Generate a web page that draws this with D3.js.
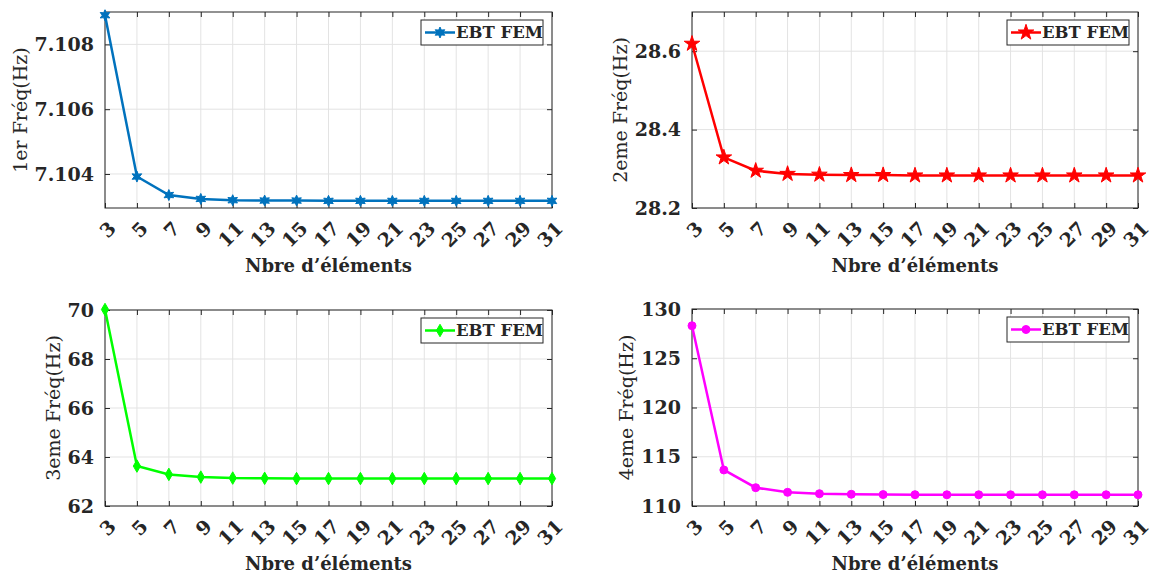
<!DOCTYPE html>
<html>
<head>
<meta charset="utf-8">
<script src="https://cdn.jsdelivr.net/npm/d3@7"></script>
<style>
  body { margin: 0; background: #fff; }
  svg { display: block; }
</style>
</head>
<body>
<svg id="chart" width="1158" height="579"></svg>
<script>
// data
var elements = [3, 5, 7, 9, 11, 13, 15, 17, 19, 21, 23, 25, 27, 29, 31];

var freq1 = [7.10890, 7.10392, 7.10335, 7.10323, 7.10319, 7.10318, 7.10318, 7.10317,
             7.10317, 7.10317, 7.10317, 7.10317, 7.10317, 7.10317, 7.10317];
var freq2 = [28.619, 28.329, 28.295, 28.287, 28.285, 28.284, 28.284, 28.283,
             28.283, 28.283, 28.283, 28.283, 28.283, 28.283, 28.283];
var freq3 = [70.02, 63.63, 63.29, 63.18, 63.14, 63.13, 63.12, 63.12,
             63.12, 63.12, 63.12, 63.12, 63.12, 63.12, 63.12];
var freq4 = [128.30, 113.66, 111.86, 111.39, 111.25, 111.19, 111.16, 111.15,
             111.14, 111.14, 111.14, 111.14, 111.14, 111.14, 111.14];

var yTicks1 = [7.104, 7.106, 7.108];
var yTicks2 = [28.2, 28.4, 28.6];
var yTicks3 = [62, 64, 66, 68, 70];
var yTicks4 = [110, 115, 120, 125, 130];

var yLabels = ["1er Fréq(Hz)", "2eme Fréq(Hz)", "3eme Fréq(Hz)", "4eme Fréq(Hz)"];
var xLabel = "Nbre d\u2019éléments";
var legendLabel = "EBT FEM";

var svg = d3.select("#chart");
var textColor = "#262626";

// six pointed star, d3 only ships a five pointed one
function hexagram(r) {
    var pts = [];
    for (var i = 0; i < 12; i++) {
        var a = -Math.PI / 2 + i * Math.PI / 6;
        var rr = i % 2 ? r * 0.5 : r;
        pts.push([rr * Math.cos(a), rr * Math.sin(a)]);
    }
    return "M" + pts.join("L") + "Z";
}

var panels = [
    { values: freq1, ticks: yTicks1, domain: [7.10295, 7.10900], fmt: d3.format(".3f"),
      color: "#0072BD", marker: hexagram(5.5), label: yLabels[0],
      left: 105, top: 12, right: 552, bottom: 208 },
    { values: freq2, ticks: yTicks2, domain: [28.2, 28.7], fmt: d3.format(".1f"),
      color: "#FF0000", marker: d3.symbol(d3.symbolStar, 75)(), label: yLabels[1],
      left: 692, top: 12, right: 1138, bottom: 208 },
    { values: freq3, ticks: yTicks3, domain: [62, 70], fmt: d3.format("d"),
      color: "#00FF00", marker: d3.symbol(d3.symbolDiamond, 45)(), label: yLabels[2],
      left: 105, top: 310, right: 552, bottom: 506 },
    { values: freq4, ticks: yTicks4, domain: [110, 130], fmt: d3.format("d"),
      color: "#FF00FF", marker: d3.symbol(d3.symbolCircle, 50)(), label: yLabels[3],
      left: 692, top: 309, right: 1138, bottom: 506 }
];

panels.forEach(function(p) {
    var w = p.right - p.left,
        h = p.bottom - p.top;

    var x = d3.scaleLinear().domain([3, 31]).range([0, w]);
    var y = d3.scaleLinear().domain(p.domain).range([h, 0]);

    var g = svg.append("g")
        .attr("transform", "translate(" + p.left + "," + p.top + ")");

    // grid
    g.append("g")
        .selectAll("line.vgrid")
        .data(elements)
        .enter().append("line")
        .attr("x1", d => x(d)).attr("x2", d => x(d))
        .attr("y1", 0).attr("y2", h)
        .style("stroke", "#e3e3e3").style("stroke-width", 1);

    g.append("g")
        .selectAll("line.hgrid")
        .data(p.ticks)
        .enter().append("line")
        .attr("x1", 0).attr("x2", w)
        .attr("y1", d => y(d)).attr("y2", d => y(d))
        .style("stroke", "#e3e3e3").style("stroke-width", 1);

    // axes, ticks point inwards like matlab
    var xAxis = g.append("g")
        .attr("transform", "translate(0," + h + ")")
        .call(d3.axisBottom(x).tickValues(elements).tickSizeInner(-5).tickSizeOuter(0).tickPadding(0));

    xAxis.selectAll("text")
        .attr("text-anchor", "end")
        .attr("dy", "0.35em")
        .attr("transform", "translate(7,17) rotate(-45)")
        .style("font-family", "DejaVu Serif")
        .style("font-weight", "bold")
        .style("font-size", "19px")
        .style("fill", textColor);

    var yAxis = g.append("g")
        .call(d3.axisLeft(y).tickValues(p.ticks).tickFormat(p.fmt).tickSizeInner(-5).tickSizeOuter(0).tickPadding(11));

    yAxis.selectAll("text")
        .style("font-family", "DejaVu Serif")
        .style("font-weight", "bold")
        .style("font-size", "19px")
        .style("fill", textColor);

    // top and right ticks
    g.append("g")
        .call(d3.axisTop(x).tickValues(elements).tickFormat("").tickSizeInner(-5).tickSizeOuter(0));
    g.append("g")
        .attr("transform", "translate(" + w + ",0)")
        .call(d3.axisRight(y).tickValues(p.ticks).tickFormat("").tickSizeInner(-5).tickSizeOuter(0));

    g.selectAll(".domain").remove();
    g.selectAll(".tick line").style("stroke", textColor);

    g.append("rect")
        .attr("width", w).attr("height", h)
        .style("fill", "none")
        .style("stroke", textColor)
        .style("stroke-width", 1);

    // series
    var line = d3.line()
        .x((d, i) => x(elements[i]))
        .y(d => y(d));

    g.append("path")
        .datum(p.values)
        .attr("d", line)
        .style("fill", "none")
        .style("stroke", p.color)
        .style("stroke-width", 2.5);

    g.selectAll(".marker")
        .data(p.values)
        .enter().append("path")
        .attr("class", "marker")
        .attr("transform", (d, i) => "translate(" + x(elements[i]) + "," + y(d) + ")")
        .attr("d", p.marker)
        .style("fill", p.color)
        .style("stroke", p.color)
        .style("stroke-width", 1);

    // axis labels
    g.append("text")
        .attr("x", w / 2)
        .attr("y", h + 64)
        .attr("text-anchor", "middle")
        .style("font-family", "DejaVu Serif")
        .style("font-weight", "bold")
        .style("font-size", "18px")
        .style("fill", textColor)
        .text(xLabel);

    var tickBox = yAxis.node().getBBox();
    g.append("text")
        .attr("transform", "translate(" + (tickBox.x - 8) + "," + (h / 2) + ") rotate(-90)")
        .attr("text-anchor", "middle")
        .style("font-family", "DejaVu Serif")
        .style("font-size", "19px")
        .style("fill", textColor)
        .text(p.label);

    // legend
    var legend = g.append("g")
        .attr("transform", "translate(" + (w - 131) + ",8)");

    legend.append("rect")
        .attr("width", 122).attr("height", 25)
        .style("fill", "#fff")
        .style("stroke", textColor)
        .style("stroke-width", 1);

    legend.append("line")
        .attr("x1", 4).attr("x2", 34)
        .attr("y1", 12.5).attr("y2", 12.5)
        .style("stroke", p.color)
        .style("stroke-width", 2.5);

    legend.append("path")
        .attr("transform", "translate(19,12.5)")
        .attr("d", p.marker)
        .style("fill", p.color)
        .style("stroke", p.color);

    legend.append("text")
        .attr("x", 35)
        .attr("y", 12.5)
        .attr("dy", "0.35em")
        .style("font-family", "DejaVu Serif")
        .style("font-weight", "bold")
        .style("font-size", "16.5px")
        .style("fill", textColor)
        .text(legendLabel);
});
</script>
</body>
</html>
